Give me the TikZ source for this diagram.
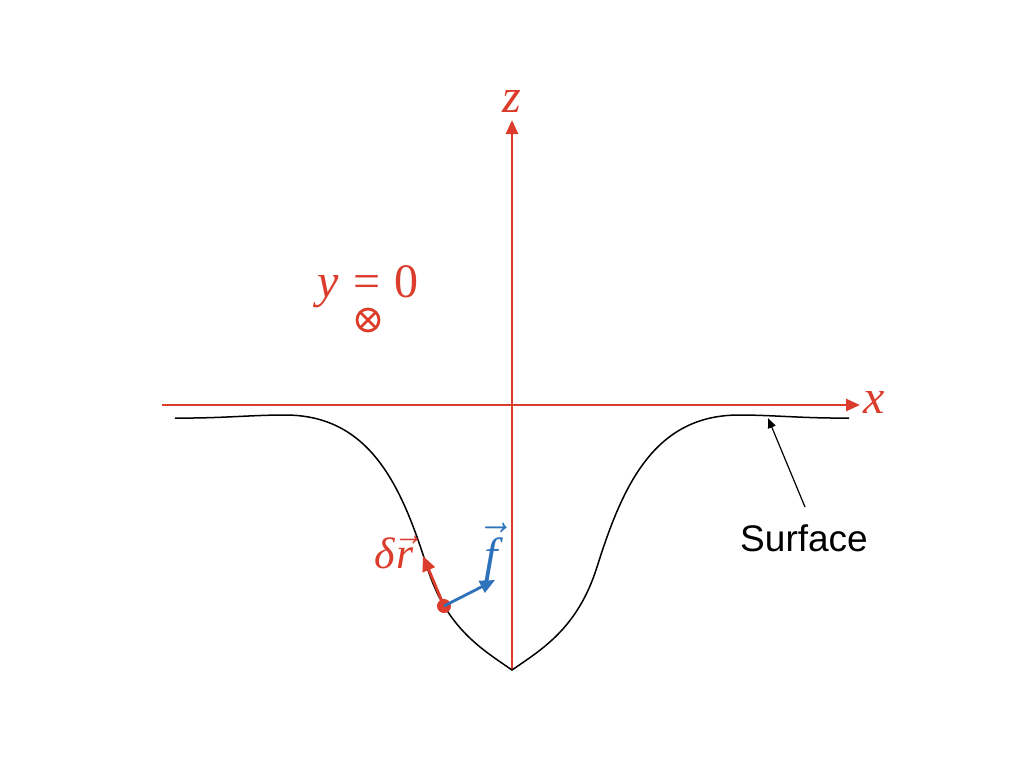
\documentclass[tikz,border=0pt]{standalone}
\usepackage{fontspec}
\setmainfont{Liberation Serif}
\newfontfamily\surffont{Liberation Sans}
\usetikzlibrary{arrows.meta}
\definecolor{axred}{RGB}{219,60,43}
\definecolor{fblue}{RGB}{46,114,188}
\tikzset{
  axis/.style={draw=axred,line width=1.3pt,-{Triangle[length=7pt,width=6pt]}},
  vecarrow/.style={line width=1.4pt,-{Triangle[length=7.5pt,width=6.5pt]}},
  surfline/.style={draw=black,line width=0.75pt},
  lbl/.style={inner sep=0pt,text=axred,font=\fontsize{24}{28}\selectfont},
  veclbl/.style={inner sep=0pt,font=\fontsize{22}{26}\selectfont},
  note/.style={inner sep=0pt,font=\surffont\fontsize{18.5}{22}\selectfont},
  otimesmark/.style={circle,draw=axred,line width=1.4pt,minimum size=11pt,inner sep=0pt,
    path picture={\draw[axred,line width=1.4pt]
      (path picture bounding box.south west) -- (path picture bounding box.north east)
      (path picture bounding box.north west) -- (path picture bounding box.south east);}},
}
\begin{document}
\begin{tikzpicture}[x=0.5pt,y=-0.5pt]
\useasboundingbox (0,0) rectangle (1024,768);
% axes
\coordinate (xl) at (162,405);
\coordinate (xr) at (860,405);
\coordinate (zb) at (512,670);
\coordinate (zt) at (512,120);
\draw[axis] (xl) -- (xr);
\draw[axis] (zb) -- (zt);
\node[lbl] (zlab) at (512,101) {\itshape z};
\node[lbl] (xlab) at (874,402) {\itshape x};
\node[lbl,anchor=base] (y0) at (368,297) {\textit{y}\hspace{0.3em}=\hspace{0.28em}0};
\node[otimesmark] (ot) at (368,320) {};
% surface
\draw[surfline] (175,418) .. controls (220,418.5) and (250,415) .. (285,415)
  .. controls (370,415) and (401.5,485.9) .. (427,567)
  .. controls (446.5,629) and (483.3,650) .. (512,670)
  .. controls (540.7,650) and (577.5,629) .. (597,567)
  .. controls (622.5,485.9) and (654,415) .. (739,415)
  .. controls (774,415) and (804,418.5) .. (849,418);
% point and vectors
\node[circle,fill=axred,inner sep=0pt,minimum size=7pt] (p) at (444,606) {};
\coordinate (dr) at (423,556);
\coordinate (ff) at (495,580);
\draw[vecarrow,draw=axred] (p.center) -- (dr);
\draw[vecarrow,draw=fblue] (p.center) -- (ff);
\node[veclbl,text=axred,anchor=base] (drlab) at (395,568) {\itshape δ\kern0.5pt$\vec{\mbox{\itshape r\kern1pt}}$};
\node[veclbl,text=fblue,anchor=base] (flab) at (493,571) {\fontsize{24}{28}\selectfont$\vec{\mbox{\itshape f\kern2pt}}$};
% surface label
\node[note] (surf) at (804,538) {Surface};
\coordinate (stail) at (805,507);
\coordinate (shead) at (768,418);
\draw[line width=0.6pt,-{Triangle[length=5pt,width=4pt]}] (stail) -- (shead);
\end{tikzpicture}
\end{document}
